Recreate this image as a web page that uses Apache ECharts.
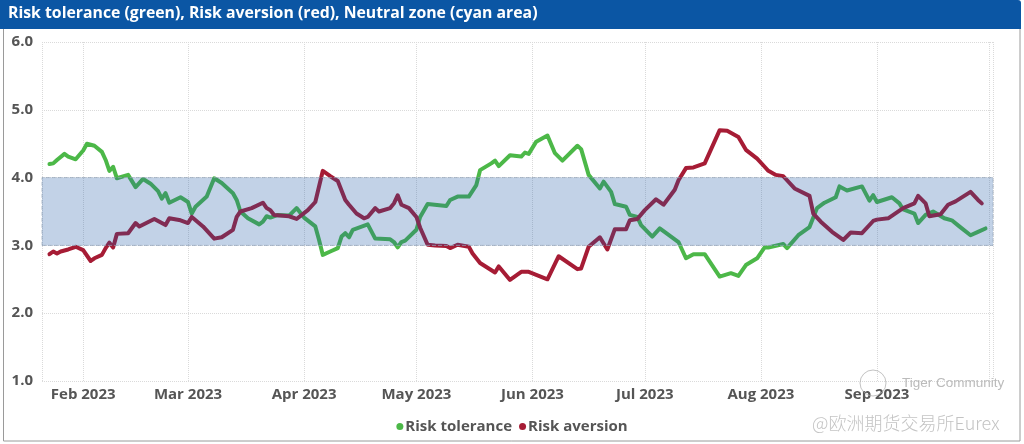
<!DOCTYPE html>
<html>
<head>
<meta charset="utf-8">
<script src="https://cdn.jsdelivr.net/npm/echarts@6/dist/echarts.min.js"></script>
<style>
html,body{margin:0;padding:0;background:#fff;}
#chart{width:1024px;height:444px;}
</style>
</head>
<body>
<div id="chart"></div>
<script>
const titleText = 'Risk tolerance (green), Risk aversion (red), Neutral zone (cyan area)';
const seriesNames = ['Risk tolerance', 'Risk aversion'];
const monthLabels = ['Jan','Feb','Mar','Apr','May','Jun','Jul','Aug','Sep','Oct','Nov','Dec'];
const xRange = ['2023-01-21', '2023-10-02'];
const lastLabelledMonth = '2023-09-01';
const neutralZone = [3, 4];

const toleranceData = [
['2023-01-23',4.20],['2023-01-24',4.21],['2023-01-25',4.26],['2023-01-27',4.35],['2023-01-28',4.31],['2023-01-30',4.27],['2023-02-01',4.40],['2023-02-02',4.50],['2023-02-04',4.47],['2023-02-06',4.38],['2023-02-07',4.26],['2023-02-08',4.10],['2023-02-09',4.16],['2023-02-10',3.99],['2023-02-13',4.04],['2023-02-15',3.86],['2023-02-17',3.98],['2023-02-19',3.91],['2023-02-21',3.80],['2023-02-22',3.69],['2023-02-23',3.77],['2023-02-24',3.63],['2023-02-27',3.71],['2023-03-01',3.64],['2023-03-02',3.47],['2023-03-03',3.57],['2023-03-06',3.72],['2023-03-08',3.99],['2023-03-10',3.92],['2023-03-13',3.77],['2023-03-14',3.67],['2023-03-15',3.50],['2023-03-17',3.40],['2023-03-20',3.31],['2023-03-21',3.35],['2023-03-22',3.43],['2023-03-23',3.41],['2023-03-25',3.45],['2023-03-28',3.44],['2023-03-30',3.55],['2023-04-01',3.41],['2023-04-04',3.28],['2023-04-05',3.08],['2023-04-06',2.86],['2023-04-08',2.91],['2023-04-10',2.96],['2023-04-11',3.13],['2023-04-12',3.18],['2023-04-13',3.12],['2023-04-14',3.23],['2023-04-18',3.31],['2023-04-20',3.10],['2023-04-24',3.09],['2023-04-25',3.05],['2023-04-26',2.97],['2023-04-27',3.05],['2023-04-28',3.07],['2023-05-01',3.23],['2023-05-02',3.42],['2023-05-04',3.61],['2023-05-09',3.58],['2023-05-10',3.67],['2023-05-12',3.72],['2023-05-15',3.72],['2023-05-17',3.89],['2023-05-18',4.11],['2023-05-21',4.21],['2023-05-22',4.25],['2023-05-23',4.17],['2023-05-26',4.33],['2023-05-29',4.31],['2023-05-30',4.37],['2023-05-31',4.35],['2023-06-02',4.53],['2023-06-05',4.62],['2023-06-07',4.36],['2023-06-09',4.25],['2023-06-13',4.47],['2023-06-14',4.42],['2023-06-16',4.04],['2023-06-19',3.84],['2023-06-20',3.94],['2023-06-22',3.79],['2023-06-23',3.61],['2023-06-26',3.57],['2023-06-27',3.45],['2023-06-29',3.42],['2023-06-30',3.30],['2023-07-03',3.13],['2023-07-05',3.25],['2023-07-10',3.05],['2023-07-12',2.81],['2023-07-14',2.87],['2023-07-17',2.87],['2023-07-21',2.54],['2023-07-24',2.59],['2023-07-26',2.55],['2023-07-28',2.71],['2023-07-31',2.81],['2023-08-02',2.97],['2023-08-03',2.97],['2023-08-07',3.02],['2023-08-08',2.96],['2023-08-11',3.15],['2023-08-14',3.27],['2023-08-16',3.55],['2023-08-18',3.63],['2023-08-21',3.71],['2023-08-22',3.87],['2023-08-24',3.81],['2023-08-28',3.87],['2023-08-30',3.66],['2023-08-31',3.74],['2023-09-01',3.64],['2023-09-05',3.71],['2023-09-07',3.62],['2023-09-08',3.53],['2023-09-11',3.47],['2023-09-12',3.33],['2023-09-14',3.45],['2023-09-16',3.50],['2023-09-19',3.40],['2023-09-21',3.37],['2023-09-23',3.28],['2023-09-26',3.15],['2023-09-28',3.20],['2023-09-30',3.25]
];

const aversionData = [
['2023-01-23',2.87],['2023-01-24',2.91],['2023-01-25',2.88],['2023-01-26',2.91],['2023-01-28',2.94],['2023-01-30',2.98],['2023-02-01',2.93],['2023-02-03',2.77],['2023-02-04',2.81],['2023-02-06',2.86],['2023-02-07',2.96],['2023-02-08',3.04],['2023-02-09',2.97],['2023-02-10',3.17],['2023-02-13',3.18],['2023-02-15',3.33],['2023-02-16',3.28],['2023-02-20',3.39],['2023-02-23',3.30],['2023-02-24',3.40],['2023-02-27',3.37],['2023-03-01',3.33],['2023-03-02',3.42],['2023-03-05',3.28],['2023-03-08',3.10],['2023-03-10',3.12],['2023-03-13',3.23],['2023-03-14',3.42],['2023-03-15',3.50],['2023-03-18',3.55],['2023-03-21',3.63],['2023-03-22',3.55],['2023-03-23',3.52],['2023-03-24',3.45],['2023-03-28',3.43],['2023-03-30',3.39],['2023-04-02',3.52],['2023-04-04',3.64],['2023-04-06',4.10],['2023-04-08',4.02],['2023-04-10',3.95],['2023-04-12',3.67],['2023-04-13',3.60],['2023-04-15',3.47],['2023-04-17',3.40],['2023-04-18',3.42],['2023-04-20',3.55],['2023-04-21',3.50],['2023-04-24',3.55],['2023-04-25',3.62],['2023-04-26',3.74],['2023-04-27',3.60],['2023-04-29',3.55],['2023-05-01',3.42],['2023-05-02',3.26],['2023-05-04',3.01],['2023-05-06',3.00],['2023-05-09',2.99],['2023-05-10',2.96],['2023-05-12',3.01],['2023-05-15',2.98],['2023-05-16',2.88],['2023-05-18',2.74],['2023-05-22',2.60],['2023-05-23',2.69],['2023-05-26',2.49],['2023-05-29',2.61],['2023-05-31',2.61],['2023-06-05',2.50],['2023-06-08',2.84],['2023-06-13',2.65],['2023-06-14',2.66],['2023-06-16',2.98],['2023-06-19',3.12],['2023-06-21',2.94],['2023-06-23',3.24],['2023-06-26',3.24],['2023-06-27',3.37],['2023-06-29',3.39],['2023-07-01',3.52],['2023-07-04',3.68],['2023-07-06',3.60],['2023-07-09',3.82],['2023-07-10',3.96],['2023-07-12',4.14],['2023-07-14',4.15],['2023-07-17',4.21],['2023-07-21',4.70],['2023-07-23',4.69],['2023-07-26',4.60],['2023-07-28',4.41],['2023-07-31',4.28],['2023-08-02',4.16],['2023-08-03',4.10],['2023-08-05',4.04],['2023-08-07',4.02],['2023-08-10',3.84],['2023-08-14',3.73],['2023-08-15',3.47],['2023-08-17',3.35],['2023-08-20',3.20],['2023-08-23',3.08],['2023-08-25',3.19],['2023-08-28',3.18],['2023-08-31',3.36],['2023-09-01',3.38],['2023-09-04',3.40],['2023-09-08',3.55],['2023-09-11',3.62],['2023-09-12',3.73],['2023-09-14',3.62],['2023-09-15',3.43],['2023-09-18',3.46],['2023-09-20',3.60],['2023-09-22',3.65],['2023-09-26',3.79],['2023-09-28',3.67],['2023-09-29',3.62]
];

const chart = echarts.init(document.getElementById('chart'), null, {renderer: 'canvas'});
const FONT = '"Open Sans", "Noto Sans", sans-serif';
const DAY = 86400000;
const lastLabelTime = new Date(lastLabelledMonth).getTime() + 2 * DAY;

chart.setOption({
  animation: false,
  backgroundColor: '#ffffff',
  textStyle: {fontFamily: FONT},
  grid: {left: 42, right: 31, top: 42, bottom: 63, containLabel: false},
  legend: {
    data: seriesNames,
    top: 414,
    left: 'center',
    icon: 'circle',
    itemWidth: 7,
    itemHeight: 7,
    itemGap: 7,
    textStyle: {fontFamily: FONT, fontWeight: 'bold', fontSize: 15, color: '#555', padding: [0, 0, 0, -3]}
  },
  xAxis: {
    type: 'time',
    min: xRange[0],
    max: xRange[1],
    minInterval: 28 * DAY,
    maxInterval: 31 * DAY,
    axisLine: {show: false},
    axisTick: {show: false},
    splitLine: {show: true, lineStyle: {type: 'dotted', color: '#dadada', width: 1}},
    axisLabel: {
      showMinLabel: false,
      showMaxLabel: false,
      margin: 6,
      fontFamily: FONT,
      fontWeight: 'bold',
      fontSize: 15,
      color: '#555',
      formatter: function (v) {
        if (v > lastLabelTime) return '';
        const d = new Date(v);
        return monthLabels[d.getMonth()] + ' ' + d.getFullYear();
      }
    }
  },
  yAxis: {
    type: 'value',
    min: 1,
    max: 6,
    interval: 1,
    axisLine: {show: false},
    axisTick: {show: false},
    splitLine: {lineStyle: {type: 'dotted', color: '#dadada', width: 1}},
    axisLabel: {
      margin: 9,
      fontFamily: FONT,
      fontWeight: 'bold',
      fontSize: 15,
      color: '#555',
      formatter: function (v) { return v.toFixed(1); }
    }
  },
  series: [
    {
      name: seriesNames[0],
      type: 'line',
      data: toleranceData,
      showSymbol: false,
      symbol: 'none',
      z: 2,
      itemStyle: {color: '#4cb848'},
      lineStyle: {color: '#4cb848', width: 4, join: 'round', cap: 'round'}
    },
    {
      name: seriesNames[1],
      type: 'line',
      data: aversionData,
      showSymbol: false,
      symbol: 'none',
      z: 2,
      itemStyle: {color: '#a61c35'},
      lineStyle: {color: '#a61c35', width: 4, join: 'round', cap: 'round'}
    },
    {
      name: 'Neutral zone',
      type: 'line',
      data: [],
      z: 10,
      silent: true,
      markArea: {
        silent: true,
        z: 10,
        itemStyle: {
          color: 'rgba(30,90,165,0.27)',
          borderColor: 'rgba(150,165,185,0.7)',
          borderWidth: 1,
          borderType: 'dashed'
        },
        data: [[
          {xAxis: xRange[0], yAxis: neutralZone[0]},
          {xAxis: xRange[1], yAxis: neutralZone[1]}
        ]]
      }
    }
  ],
  graphic: [
    {type: 'rect', z: 100, shape: {x: 3.5, y: 28, width: 1016.5, height: 413}, style: {fill: 'none', stroke: '#9a9a9a', lineWidth: 1}},
    {type: 'rect', z: 101, shape: {x: 0, y: 0, width: 1021, height: 29, r: [0, 3, 0, 0]}, style: {fill: '#0b56a4'}},
    {type: 'text', z: 102, left: 8, top: 5, style: {text: titleText, fill: '#ffffff', font: 'bold 15.8px "Open Sans", "Noto Sans", sans-serif'}},
    {type: 'circle', z: 50, shape: {cx: 873, cy: 383, r: 13}, style: {fill: 'none', stroke: 'rgba(170,170,170,0.7)', lineWidth: 1}},
    {type: 'text', z: 50, left: 902, top: 376, style: {text: 'Tiger Community', fill: 'rgba(170,170,170,0.8)', font: '13.5px "Liberation Sans", Arial, sans-serif'}},
    {type: 'text', z: 50, left: 812, top: 414, style: {text: '@欧洲期货交易所Eurex', fill: 'rgba(185,185,185,0.85)', font: '300 18px "Noto Sans CJK SC", sans-serif'}}
  ]
});
</script>
</body>
</html>
